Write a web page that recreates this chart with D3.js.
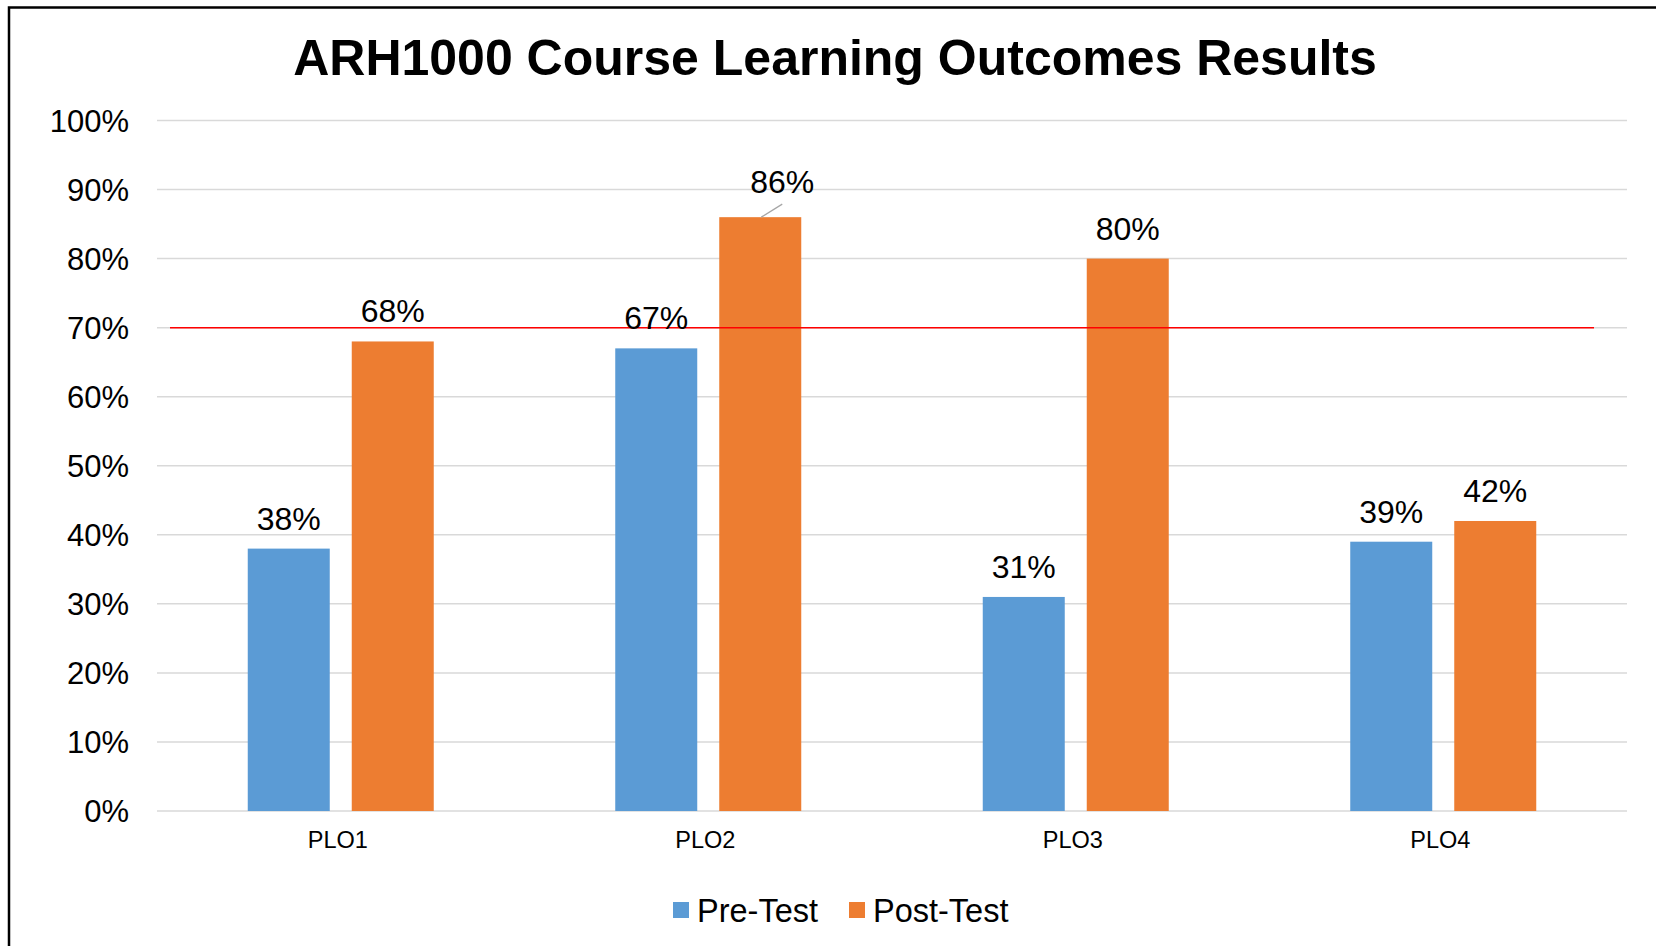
<!DOCTYPE html>
<html>
<head>
<meta charset="utf-8">
<script src="https://cdn.jsdelivr.net/npm/d3@7"></script>
<style>
html,body{margin:0;padding:0;background:#fff;}
svg{display:block;font-family:"Liberation Sans",Arial,sans-serif;}
</style>
</head>
<body>
<svg id="chart" width="1656" height="946"></svg>
<script>
const categories = ["PLO1", "PLO2", "PLO3", "PLO4"];
const seriesNames = ["Pre-Test", "Post-Test"];
const preTest = [0.38, 0.67, 0.31, 0.39];
const postTest = [0.68, 0.86, 0.80, 0.42];
const yTicks = [0, 0.1, 0.2, 0.3, 0.4, 0.5, 0.6, 0.7, 0.8, 0.9, 1.0];
const targetValue = 0.70;
const colors = ["#5B9BD5", "#ED7D31"];
const title = "ARH1000 Course Learning Outcomes Results";

const svg = d3.select("#chart");
const W = 1656, H = 946;
const plot = {left: 157, right: 1627, top: 120.5, bottom: 811};

svg.append("rect").attr("width", W).attr("height", H).attr("fill", "#fff");
// outer chart border (extends beyond canvas right and bottom)
svg.append("rect").attr("x", 9).attr("y", 7.5).attr("width", W + 20).attr("height", H + 20)
  .attr("fill", "none").attr("stroke", "#000").attr("stroke-width", 2.5);

const x0 = d3.scaleBand().domain(categories).range([plot.left, plot.right]).paddingInner(0).paddingOuter(0);
const y = d3.scaleLinear().domain([0, 1]).range([plot.bottom, plot.top]);

const barW = 82, barGap = 22;
function barX(ci, si) {
  const c = x0(categories[ci]) + x0.bandwidth() / 2;
  return si === 0 ? c - barGap / 2 - barW : c + barGap / 2;
}

// gridlines
svg.append("g").selectAll("line").data(yTicks).join("line")
  .attr("x1", plot.left).attr("x2", plot.right)
  .attr("y1", d => y(d)).attr("y2", d => y(d))
  .attr("stroke", "#d9d9d9").attr("stroke-width", 1.5);

// y axis labels
const yAxis = d3.axisLeft(y).tickValues(yTicks).tickFormat(d3.format(".0%")).tickSize(0).tickPadding(0);
const yg = svg.append("g").attr("transform", `translate(129,0)`).call(yAxis);
yg.select(".domain").remove();
yg.selectAll("text").attr("font-size", 31).attr("fill", "#000").attr("dy", "0.35em")
  .attr("font-family", "'Liberation Sans',Arial,sans-serif");

// x axis labels
const xAxis = d3.axisBottom(x0).tickSize(0).tickPadding(0);
const xg = svg.append("g").attr("transform", `translate(-3,${848})`).call(xAxis);
xg.select(".domain").remove();
xg.selectAll("text").attr("font-size", 23.5).attr("fill", "#000").attr("dy", 0)
  .attr("font-family", "'Liberation Sans',Arial,sans-serif");

// bars
const series = [preTest, postTest];
const fmt = d3.format(".0%");
series.forEach((vals, si) => {
  svg.append("g").selectAll("rect").data(vals).join("rect")
    .attr("x", (d, i) => barX(i, si))
    .attr("y", d => y(d))
    .attr("width", barW)
    .attr("height", d => y(0) - y(d))
    .attr("fill", colors[si]);
});

// target line
svg.append("line")
  .attr("x1", 170).attr("x2", 1594)
  .attr("y1", y(targetValue)).attr("y2", y(targetValue))
  .attr("stroke", "#FF0000").attr("stroke-width", 1.5);

// data labels
series.forEach((vals, si) => {
  vals.forEach((v, i) => {
    const cx = barX(i, si) + barW / 2;
    let lx = cx, ly = y(v) - 19;
    if (si === 1 && i === 1) {
      lx = cx + 22; ly = y(v) - 24;
      svg.append("line")
        .attr("x1", cx + 1).attr("y1", y(v))
        .attr("x2", cx + 22).attr("y2", y(v) - 13)
        .attr("stroke", "#a6a6a6").attr("stroke-width", 1.3);
    }
    svg.append("text").attr("x", lx).attr("y", ly)
      .attr("text-anchor", "middle").attr("font-size", 32).attr("fill", "#000")
      .text(fmt(v));
  });
});

// title
svg.append("text").attr("x", 835).attr("y", 75).attr("text-anchor", "middle")
  .attr("font-size", 50).attr("font-weight", "bold").attr("fill", "#000").text(title);

// legend
const legend = [{name: seriesNames[0], x: 673, tx: 697}, {name: seriesNames[1], x: 849, tx: 873}];
legend.forEach((l, i) => {
  svg.append("rect").attr("x", l.x).attr("y", 902).attr("width", 16).attr("height", 16).attr("fill", colors[i]);
  svg.append("text").attr("x", l.tx).attr("y", 921.5).attr("font-size", 32.5).attr("fill", "#000").text(l.name);
});
</script>
</body>
</html>
